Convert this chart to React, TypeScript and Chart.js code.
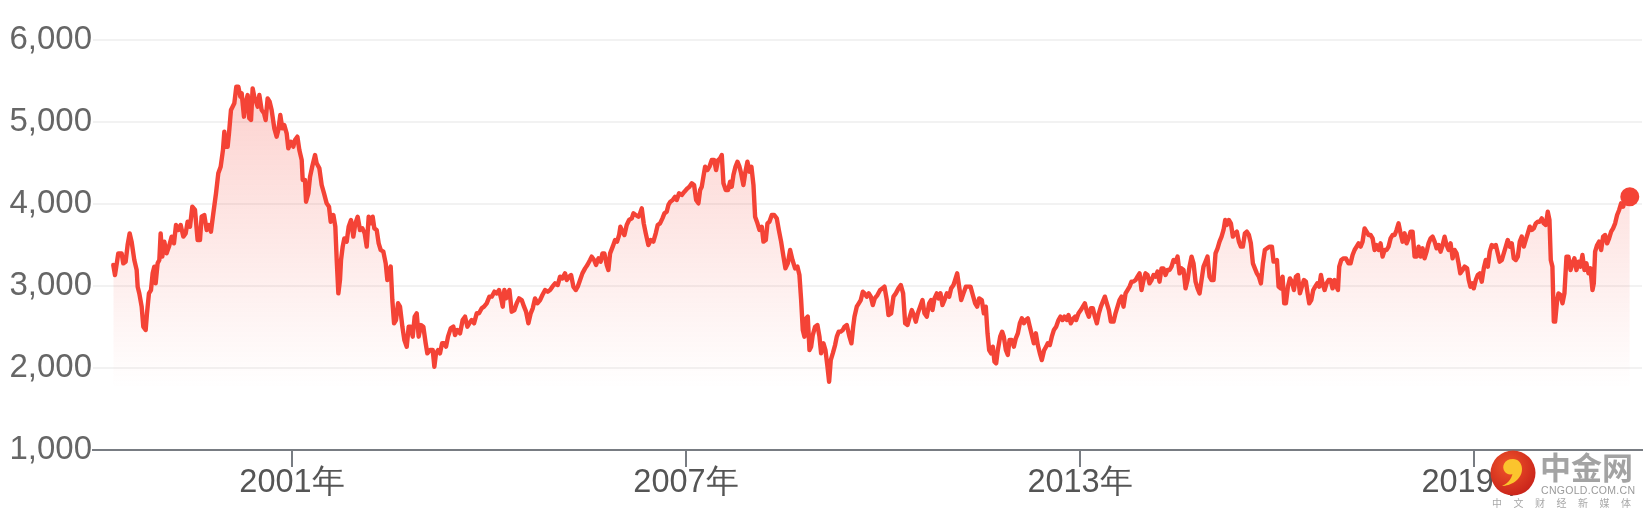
import React, { useEffect, useRef } from "react";
import { Chart, registerables } from "chart.js";

Chart.register(...registerables);

// ---- data (decimal year, index level) ----
const years1998_2001 = [
  1998.279, 1998.305, 1998.355, 1998.406, 1998.431, 1998.467, 1998.497, 1998.528, 1998.558, 1998.599,
  1998.635, 1998.650, 1998.675, 1998.711, 1998.736, 1998.772, 1998.792, 1998.822, 1998.853, 1998.878,
  1998.904, 1998.924, 1998.954, 1998.980, 1999.000, 1999.025, 1999.056, 1999.091, 1999.127, 1999.168,
  1999.203, 1999.234, 1999.269, 1999.305, 1999.345, 1999.381, 1999.411, 1999.447, 1999.482, 1999.523,
  1999.563, 1999.599, 1999.624, 1999.665, 1999.701, 1999.736, 1999.766, 1999.802, 1999.843, 1999.878,
  1999.914, 1999.949, 1999.970, 1999.990, 2000.020, 2000.041, 2000.071, 2000.096, 2000.122, 2000.152,
  2000.183, 2000.213, 2000.234, 2000.269, 2000.294, 2000.325, 2000.350, 2000.376, 2000.401, 2000.426,
  2000.452, 2000.477, 2000.503, 2000.538, 2000.574, 2000.599, 2000.629, 2000.660, 2000.690, 2000.731,
  2000.766, 2000.792, 2000.822, 2000.853, 2000.883, 2000.919, 2000.944, 2000.985, 2001.020, 2001.046,
];
const values1998_2001 = [
  3256, 3134, 3398, 3398, 3276, 3297, 3500, 3642, 3541, 3317,
  3195, 2992, 2910, 2748, 2504, 2463, 2667, 2910, 2951, 3154,
  3236, 3032, 3276, 3317, 3642, 3358, 3541, 3398, 3480, 3602,
  3520, 3744, 3683, 3744, 3602, 3642, 3784, 3723, 3967, 3927,
  3561, 3561, 3845, 3866, 3683, 3744, 3663, 3886, 4130, 4374,
  4455, 4658, 4882, 4699, 4699, 4862, 5146, 5187, 5228, 5431,
  5431, 5309, 5350, 5065, 5228, 5329, 5045, 5024, 5410, 5309,
  5248, 5187, 5329, 5146, 5106, 5024, 5288, 5248, 5146, 4923,
  4821, 4902, 5085, 4923, 4963, 4862, 4679, 4760, 4699, 4780,
];

const years2001_2004 = [
  2001.082, 2001.112, 2001.148, 2001.163, 2001.198, 2001.214, 2001.249, 2001.275, 2001.310, 2001.351,
  2001.376, 2001.417, 2001.452, 2001.488, 2001.528, 2001.564, 2001.589, 2001.630, 2001.660, 2001.681,
  2001.706, 2001.731, 2001.747, 2001.772, 2001.797, 2001.833, 2001.863, 2001.899, 2001.934, 2001.965,
  2002.000, 2002.036, 2002.072, 2002.107, 2002.138, 2002.168, 2002.198, 2002.229, 2002.254, 2002.290,
  2002.320, 2002.351, 2002.391, 2002.427, 2002.452, 2002.483, 2002.503, 2002.528, 2002.554, 2002.584,
  2002.615, 2002.645, 2002.681, 2002.711, 2002.747, 2002.777, 2002.808, 2002.838, 2002.868, 2002.899,
  2002.929, 2002.965, 2003.000, 2003.036, 2003.061, 2003.102, 2003.143, 2003.168, 2003.193, 2003.224,
  2003.254, 2003.285, 2003.315, 2003.346, 2003.376, 2003.417, 2003.457, 2003.483, 2003.518, 2003.559,
  2003.599, 2003.635, 2003.671, 2003.701, 2003.736, 2003.772, 2003.813, 2003.848, 2003.889, 2003.924,
  2003.965, 2004.006,
];
const values2001_2004 = [
  4821, 4658, 4536, 4293, 4293, 4028, 4130, 4333, 4463, 4597,
  4496, 4435, 4232, 4130, 4008, 3967, 3784, 3866, 3723, 3317,
  2910, 3073, 3317, 3480, 3581, 3541, 3723, 3805, 3602, 3764,
  3845, 3683, 3703, 3642, 3480, 3845, 3764, 3845, 3703, 3683,
  3520, 3439, 3419, 3276, 3073, 3195, 3236, 2829, 2545, 2585,
  2789, 2748, 2504, 2341, 2260, 2504, 2504, 2382, 2626, 2667,
  2382, 2524, 2504, 2301, 2179, 2219, 2219, 2016, 2179, 2219,
  2179, 2301, 2301, 2260, 2382, 2484, 2504, 2402, 2463, 2423,
  2585, 2626, 2504, 2545, 2585, 2545, 2667, 2667, 2728, 2748,
  2789, 2870,
];

const years2004_2007 = [
  2004.042, 2004.082, 2004.118, 2004.153, 2004.184, 2004.209, 2004.234, 2004.260, 2004.285, 2004.311,
  2004.346, 2004.387, 2004.422, 2004.458, 2004.498, 2004.534, 2004.564, 2004.600, 2004.635, 2004.666,
  2004.701, 2004.737, 2004.778, 2004.813, 2004.854, 2004.894, 2004.930, 2004.965, 2005.006, 2005.047,
  2005.082, 2005.118, 2005.158, 2005.184, 2005.219, 2005.250, 2005.285, 2005.321, 2005.351, 2005.387,
  2005.422, 2005.463, 2005.498, 2005.539, 2005.564, 2005.600, 2005.630, 2005.666, 2005.701, 2005.727,
  2005.757, 2005.793, 2005.818, 2005.844, 2005.884, 2005.920, 2005.950, 2005.981, 2006.001, 2006.031,
  2006.062, 2006.097, 2006.133, 2006.174, 2006.199, 2006.234, 2006.275, 2006.300, 2006.326, 2006.356,
  2006.387, 2006.427, 2006.463, 2006.503, 2006.539, 2006.569, 2006.605, 2006.641, 2006.671, 2006.706,
  2006.732, 2006.762, 2006.798, 2006.833, 2006.859, 2006.894, 2006.935, 2006.976,
];
const values2004_2007 = [
  2870, 2931, 2910, 2951, 2849, 2748, 2951, 2849, 2910, 2951,
  2687, 2707, 2789, 2849, 2829, 2748, 2687, 2545, 2667, 2728,
  2849, 2789, 2829, 2890, 2951, 2931, 2951, 2992, 3032, 3012,
  3114, 3093, 3154, 3073, 3114, 3134, 2992, 2951, 2992, 3073,
  3154, 3215, 3256, 3317, 3358, 3317, 3256, 3337, 3297, 3398,
  3398, 3256, 3195, 3398, 3480, 3561, 3541, 3622, 3723, 3663,
  3622, 3744, 3805, 3825, 3886, 3866, 3845, 3886, 3947, 3764,
  3642, 3500, 3561, 3541, 3642, 3744, 3764, 3825, 3886, 3906,
  3988, 4028, 4049, 4089, 4049, 4130, 4110, 4150,
];

const years2007_2010 = [
  2007.022, 2007.052, 2007.088, 2007.123, 2007.154, 2007.189, 2007.215, 2007.240, 2007.265, 2007.291,
  2007.326, 2007.357, 2007.392, 2007.428, 2007.458, 2007.489, 2007.519, 2007.545, 2007.570, 2007.605,
  2007.641, 2007.671, 2007.697, 2007.722, 2007.753, 2007.783, 2007.814, 2007.839, 2007.874, 2007.905,
  2007.935, 2007.966, 2007.996, 2008.027, 2008.052, 2008.088, 2008.118, 2008.154, 2008.179, 2008.215,
  2008.240, 2008.270, 2008.306, 2008.341, 2008.382, 2008.413, 2008.448, 2008.484, 2008.514, 2008.550,
  2008.585, 2008.621, 2008.661, 2008.697, 2008.727, 2008.753, 2008.778, 2008.803, 2008.829, 2008.854,
  2008.880, 2008.905, 2008.930, 2008.966, 2009.001, 2009.032, 2009.057, 2009.093, 2009.123, 2009.154,
  2009.179, 2009.204, 2009.235, 2009.270, 2009.296, 2009.326, 2009.357, 2009.387, 2009.413, 2009.448,
  2009.489, 2009.519, 2009.545, 2009.565, 2009.600, 2009.631, 2009.661, 2009.692, 2009.717, 2009.753,
  2009.783, 2009.814, 2009.844, 2009.874, 2009.915, 2009.956,
];
const values2007_2010 = [
  4191, 4211, 4252, 4232, 4049, 4008, 4171, 4211, 4333, 4455,
  4415, 4455, 4536, 4536, 4415, 4536, 4557, 4597, 4252, 4171,
  4171, 4272, 4211, 4354, 4455, 4516, 4455, 4374, 4232, 4394,
  4516, 4394, 4455, 4232, 3845, 3764, 3683, 3723, 3541, 3561,
  3764, 3784, 3866, 3866, 3825, 3683, 3541, 3358, 3215, 3276,
  3439, 3317, 3215, 3236, 3134, 2829, 2463, 2382, 2606, 2626,
  2219, 2260, 2402, 2504, 2524, 2382, 2179, 2301, 2219, 2016,
  1833, 2097, 2179, 2280, 2382, 2443, 2443, 2463, 2504, 2524,
  2382, 2301, 2504, 2626, 2748, 2789, 2829, 2931, 2910, 2870,
  2910, 2870, 2768, 2849, 2890, 2951,
];

const years2010_2013 = [
  2009.992, 2010.022, 2010.058, 2010.083, 2010.124, 2010.159, 2010.195, 2010.235, 2010.271, 2010.306,
  2010.337, 2010.372, 2010.408, 2010.438, 2010.469, 2010.499, 2010.530, 2010.565, 2010.601, 2010.631,
  2010.667, 2010.702, 2010.733, 2010.753, 2010.784, 2010.819, 2010.844, 2010.875, 2010.905, 2010.936,
  2010.971, 2011.007, 2011.037, 2011.073, 2011.098, 2011.129, 2011.159, 2011.190, 2011.225, 2011.261,
  2011.301, 2011.332, 2011.367, 2011.403, 2011.433, 2011.464, 2011.504, 2011.535, 2011.565, 2011.591,
  2011.616, 2011.646, 2011.672, 2011.697, 2011.723, 2011.748, 2011.784, 2011.814, 2011.839, 2011.870,
  2011.900, 2011.926, 2011.961, 2011.992, 2012.022, 2012.053, 2012.083, 2012.114, 2012.144, 2012.174,
  2012.205, 2012.235, 2012.266, 2012.296, 2012.327, 2012.357, 2012.388, 2012.418, 2012.454, 2012.484,
  2012.509, 2012.540, 2012.570, 2012.601, 2012.636, 2012.672, 2012.702, 2012.733, 2012.763, 2012.799,
  2012.824, 2012.860, 2012.900, 2012.926,
];
const values2010_2013 = [
  2971, 2992, 2829, 2646, 2667, 2870, 2910, 2971, 3012, 2910,
  2545, 2524, 2626, 2707, 2646, 2565, 2667, 2748, 2829, 2667,
  2626, 2789, 2829, 2707, 2849, 2910, 2849, 2910, 2768, 2829,
  2910, 2870, 2971, 3012, 3073, 3154, 2992, 2829, 2910, 2992,
  2992, 2992, 2890, 2789, 2748, 2849, 2829, 2667, 2748, 2423,
  2219, 2179, 2260, 2077, 2057, 2219, 2382, 2443, 2382, 2219,
  2158, 2341, 2341, 2260, 2362, 2423, 2545, 2606, 2545, 2585,
  2606, 2504, 2402, 2301, 2423, 2280, 2179, 2097, 2219, 2260,
  2301, 2280, 2382, 2463, 2504, 2585, 2626, 2585, 2626, 2585,
  2646, 2545, 2606, 2626,
];

const years2013_2016 = [
  2012.941, 2012.977, 2013.012, 2013.043, 2013.073, 2013.104, 2013.134, 2013.165, 2013.195, 2013.226,
  2013.256, 2013.287, 2013.317, 2013.347, 2013.378, 2013.408, 2013.439, 2013.469, 2013.510, 2013.540,
  2013.571, 2013.601, 2013.632, 2013.662, 2013.693, 2013.723, 2013.754, 2013.784, 2013.814, 2013.845,
  2013.875, 2013.906, 2013.936, 2013.967, 2013.997, 2014.028, 2014.058, 2014.089, 2014.119, 2014.149,
  2014.180, 2014.210, 2014.241, 2014.271, 2014.302, 2014.332, 2014.363, 2014.393, 2014.424, 2014.454,
  2014.485, 2014.515, 2014.545, 2014.576, 2014.606, 2014.637, 2014.667, 2014.698, 2014.728, 2014.759,
  2014.789, 2014.820, 2014.850, 2014.880, 2014.911, 2014.941, 2014.972, 2015.002, 2015.033, 2015.063,
  2015.094, 2015.124, 2015.155, 2015.185, 2015.210, 2015.236, 2015.266, 2015.297, 2015.327, 2015.358,
  2015.388, 2015.419, 2015.449, 2015.479, 2015.510, 2015.540, 2015.571, 2015.601, 2015.632, 2015.662,
  2015.693, 2015.723, 2015.754, 2015.784, 2015.814, 2015.845, 2015.886,
];
const values2013_2016 = [
  2585, 2667, 2707, 2748, 2789, 2687, 2626, 2728, 2728, 2626,
  2545, 2667, 2748, 2809, 2870, 2789, 2707, 2565, 2565, 2667,
  2748, 2829, 2870, 2748, 2910, 2951, 2992, 3053, 3053, 3073,
  3114, 3154, 2951, 3073, 3154, 3134, 3032, 3073, 3134, 3114,
  3175, 3053, 3215, 3215, 3134, 3195, 3195, 3236, 3317, 3297,
  3358, 3154, 3215, 3195, 2971, 3073, 3236, 3358, 3276, 3053,
  2971, 2910, 3073, 3236, 3297, 3358, 3114, 3073, 3073, 3398,
  3459, 3541, 3602, 3683, 3805, 3744, 3805, 3764, 3602, 3642,
  3663, 3541, 3480, 3480, 3642, 3663, 3622, 3520, 3276, 3215,
  3154, 3114, 3032, 3276, 3439, 3459, 3480,
];

const years2016_2019 = [
  2015.922, 2015.947, 2015.972, 2015.998, 2016.023, 2016.054, 2016.084, 2016.109, 2016.135, 2016.165,
  2016.196, 2016.226, 2016.257, 2016.287, 2016.317, 2016.348, 2016.378, 2016.409, 2016.439, 2016.465,
  2016.490, 2016.521, 2016.551, 2016.581, 2016.612, 2016.642, 2016.668, 2016.693, 2016.724, 2016.754,
  2016.784, 2016.815, 2016.845, 2016.876, 2016.906, 2016.927, 2016.947, 2016.977, 2017.013, 2017.048,
  2017.089, 2017.119, 2017.150, 2017.180, 2017.211, 2017.241, 2017.272, 2017.302, 2017.333, 2017.363,
  2017.394, 2017.424, 2017.455, 2017.485, 2017.515, 2017.546, 2017.576, 2017.607, 2017.637, 2017.668,
  2017.698, 2017.729, 2017.759, 2017.790, 2017.820, 2017.850, 2017.881, 2017.911, 2017.942, 2017.972,
  2018.003, 2018.033, 2018.064, 2018.094, 2018.125, 2018.155, 2018.185, 2018.216, 2018.246, 2018.277,
  2018.307, 2018.338, 2018.368, 2018.399, 2018.429, 2018.460, 2018.490, 2018.521, 2018.551, 2018.581,
  2018.612, 2018.642, 2018.673, 2018.703, 2018.734, 2018.764, 2018.790, 2018.825, 2018.856,
];
const values2016_2019 = [
  3480, 3297, 3297, 3317, 2992, 2971, 3114, 2789, 2789, 2992,
  3093, 3053, 2951, 3114, 3134, 2910, 2992, 3073, 3053, 2910,
  2789, 2829, 2951, 2992, 3032, 2992, 3134, 3032, 2951, 3032,
  3073, 3073, 2971, 3073, 2992, 2951, 3236, 3317, 3337, 3337,
  3276, 3276, 3378, 3439, 3480, 3520, 3480, 3541, 3703, 3663,
  3622, 3622, 3581, 3439, 3500, 3439, 3520, 3358, 3439, 3439,
  3480, 3581, 3622, 3622, 3683, 3764, 3642, 3541, 3642, 3520,
  3581, 3663, 3663, 3358, 3358, 3480, 3358, 3459, 3337, 3419,
  3520, 3581, 3602, 3541, 3459, 3500, 3419, 3500, 3602, 3500,
  3439, 3520, 3337, 3439, 3398, 3276, 3154, 3195, 3236,
];

const years2019_2021 = [
  2018.894, 2018.919, 2018.945, 2018.975, 2018.995, 2019.026, 2019.056, 2019.087, 2019.117, 2019.148,
  2019.178, 2019.209, 2019.239, 2019.270, 2019.300, 2019.331, 2019.361, 2019.391, 2019.422, 2019.452,
  2019.483, 2019.513, 2019.544, 2019.574, 2019.605, 2019.635, 2019.666, 2019.696, 2019.726, 2019.757,
  2019.787, 2019.818, 2019.848, 2019.879, 2019.909, 2019.940, 2019.970, 2020.001, 2020.031, 2020.061,
  2020.092, 2020.122, 2020.148, 2020.168, 2020.193, 2020.214, 2020.234, 2020.265, 2020.285, 2020.315,
  2020.346, 2020.376, 2020.407, 2020.437, 2020.468, 2020.498, 2020.528, 2020.559, 2020.589, 2020.620,
  2020.650, 2020.681, 2020.711, 2020.742, 2020.772, 2020.803, 2020.823, 2020.843, 2020.874, 2020.904,
  2020.935, 2020.965, 2020.995, 2021.026, 2021.056, 2021.087, 2021.117, 2021.148, 2021.178, 2021.209,
  2021.239, 2021.270, 2021.300, 2021.331, 2021.371,
];
const values2019_2021 = [
  3215, 3073, 2992, 3032, 2971, 3073, 3134, 3154, 3053, 3215,
  3317, 3236, 3419, 3500, 3480, 3500, 3398, 3297, 3317, 3398,
  3480, 3561, 3480, 3520, 3337, 3317, 3358, 3541, 3602, 3480,
  3561, 3642, 3723, 3683, 3703, 3764, 3784, 3784, 3825, 3764,
  3744, 3906, 3805, 3317, 3236, 2565, 2565, 2829, 2910, 2890,
  2789, 2910, 3358, 3358, 3195, 3276, 3337, 3195, 3297, 3236,
  3378, 3195, 3276, 3154, 3215, 2951, 3032, 3419, 3500, 3541,
  3439, 3602, 3622, 3520, 3581, 3663, 3703, 3764, 3866, 3927,
  4008, 3967, 4049, 4089, 4089,
];

const years = [
  ...years1998_2001, ...years2001_2004, ...years2004_2007, ...years2007_2010,
  ...years2010_2013, ...years2013_2016, ...years2016_2019, ...years2019_2021,
];
const values = [
  ...values1998_2001, ...values2001_2004, ...values2004_2007, ...values2007_2010,
  ...values2010_2013, ...values2013_2016, ...values2016_2019, ...values2019_2021,
];

const xTickYears = [2001, 2007, 2013, 2019];
const yTickValues = [1000, 2000, 3000, 4000, 5000, 6000];
const xMin = 1997.97;
const xMax = 2021.557;

const LINE = "#f44336";
const FONT = "'Liberation Sans', Arial, sans-serif";

export default function App() {
  const ref = useRef<HTMLCanvasElement | null>(null);

  useEffect(() => {
    if (!ref.current) return;
    const points = years.map((x, i) => ({ x, y: values[i] }));
    const last = points.length - 1;
    const chart = new Chart(ref.current, {
      type: "line",
      data: {
        datasets: [
          {
            data: points,
            borderColor: LINE,
            borderWidth: 4.4,
            borderJoinStyle: "round",
            borderCapStyle: "round",
            tension: 0,
            fill: "start",
            backgroundColor: (ctx: any) => {
              const area = ctx.chart.chartArea;
              if (!area) return "rgba(244,67,54,0.1)";
              const g = ctx.chart.ctx.createLinearGradient(0, area.top, 0, area.bottom);
              g.addColorStop(0, "rgba(244,67,54,0.28)");
              g.addColorStop(0.85, "rgba(244,67,54,0)");
              g.addColorStop(1, "rgba(244,67,54,0)");
              return g;
            },
            pointRadius: (ctx: any) => (ctx.dataIndex === last ? 9.5 : 0),
            pointBackgroundColor: LINE,
            pointBorderWidth: 0,
            pointHoverRadius: 0,
            clip: false,
          },
        ],
      },
      options: {
        animation: false,
        responsive: false,
        devicePixelRatio: 1,
        events: [],
        layout: { autoPadding: false, padding: { top: 40, right: 4, left: 0, bottom: 0 } },
        plugins: { legend: { display: false }, tooltip: { enabled: false } },
        scales: {
          x: {
            type: "linear",
            min: xMin,
            max: xMax,
            afterBuildTicks: (s: any) => {
              s.ticks = xTickYears.map((v) => ({ value: v }));
            },
            afterFit: (s: any) => {
              s.height = 72;
              s.paddingLeft = 0;
              s.paddingRight = 0;
            },
            grid: {
              drawOnChartArea: false,
              drawTicks: true,
              tickLength: 17,
              color: "#787c82",
              lineWidth: 2,
            },
            border: { display: true, color: "#787c82", width: 2 },
            ticks: {
              autoSkip: false,
              maxRotation: 0,
              padding: 0,
              color: "#555",
              font: { family: FONT, size: 32.5, lineHeight: 1 },
              callback: (v: any) => `${v}年`,
            },
          },
          y: {
            min: 1000,
            max: 6000,
            afterBuildTicks: (s: any) => {
              s.ticks = yTickValues.map((v) => ({ value: v }));
            },
            afterFit: (s: any) => {
              s.width = 93;
              s.paddingTop = 0;
              s.paddingBottom = 0;
            },
            grid: { color: "#f2f2f2", lineWidth: 2, drawTicks: false },
            border: { display: false },
            ticks: {
              padding: 1,
              color: "#666",
              font: { family: FONT, size: 33 },
              callback: (v: any) => Number(v).toLocaleString("en-US"),
            },
          },
        },
      },
    });
    return () => chart.destroy();
  }, []);

  return (
    <div style={{ position: "fixed", left: 0, top: 0, width: 1646, height: 522, background: "#fff" }}>
      <canvas ref={ref} width={1646} height={522} style={{ display: "block", width: 1646, height: 522 }} />
      <svg
        width={46}
        height={46}
        viewBox="0 0 46 46"
        style={{ position: "absolute", left: 1490, top: 450 }}
      >
        <defs>
          <radialGradient id="lg" cx="40%" cy="35%" r="70%">
            <stop offset="0%" stopColor="#f0552a" />
            <stop offset="100%" stopColor="#c8221a" />
          </radialGradient>
        </defs>
        <circle cx={23} cy={23} r={22.5} fill="url(#lg)" />
        <path
          d="M23 9 C14 9 11 17 15 22 C18 26 25 25 26 20 C27 16 22 14 20 17 C19 19 21 21 23 20 C23 27 19 33 12 36 C20 36 32 30 32 19 C32 13 28 9 23 9 Z"
          fill="#fbc42d"
        />
      </svg>
      <div
        style={{
          position: "absolute",
          left: 1540,
          top: 449,
          fontFamily: "'Noto Sans CJK SC', sans-serif",
          fontWeight: 700,
          fontSize: 31,
          lineHeight: "34px",
          color: "#a3a3a3",
        }}
      >
        中金网
      </div>
      <div
        style={{
          position: "absolute",
          left: 1541,
          top: 484,
          fontFamily: FONT,
          fontSize: 10.5,
          lineHeight: "12px",
          color: "#9a9a9a",
          letterSpacing: 0.3,
        }}
      >
        CNGOLD.COM.CN
      </div>
      <div
        style={{
          position: "absolute",
          left: 1492,
          top: 497,
          fontFamily: "'Noto Sans CJK SC', sans-serif",
          fontSize: 10,
          lineHeight: "12px",
          color: "#a8a8a8",
          letterSpacing: 11.5,
          whiteSpace: "nowrap",
        }}
      >
        中文财经新媒体
      </div>
    </div>
  );
}
